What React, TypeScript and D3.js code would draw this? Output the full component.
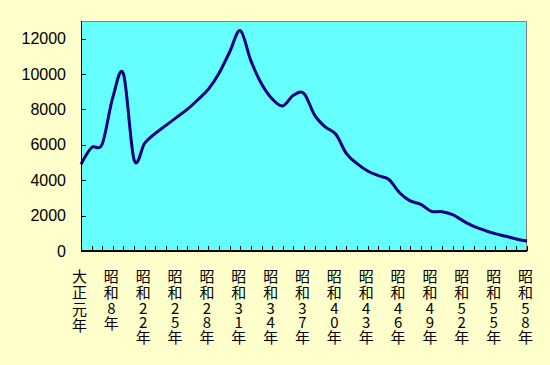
import React, { useEffect, useRef } from 'react';
import * as d3 from 'd3';

// one label per point; blanks are unlabeled categories
const CATEGORIES = [
  '大正元年', '', '', '昭和8年', '', '', '昭和22年', '昭和23年', '昭和24年',
  '昭和25年', '昭和26年', '昭和27年', '昭和28年', '昭和29年', '昭和30年',
  '昭和31年', '昭和32年', '昭和33年', '昭和34年', '昭和35年', '昭和36年',
  '昭和37年', '昭和38年', '昭和39年', '昭和40年', '昭和41年', '昭和42年',
  '昭和43年', '昭和44年', '昭和45年', '昭和46年', '昭和47年', '昭和48年',
  '昭和49年', '昭和50年', '昭和51年', '昭和52年', '昭和53年', '昭和54年',
  '昭和55年', '昭和56年', '昭和57年', '昭和58年'
];

const VALUES = [
  4900, 5850, 6050, 8700, 10000, 5150, 6100, 6650, 7100, 7550, 8000,
  8550, 9150, 10050, 11250, 12450, 10750, 9450, 8600, 8200, 8800, 8900,
  7680, 7010, 6600, 5500, 4940, 4520, 4260, 4040, 3290, 2830, 2640,
  2240, 2220, 2050, 1700, 1390, 1170, 980, 830, 680, 560
];

const Y_TICKS = [0, 2000, 4000, 6000, 8000, 10000, 12000];
const LABEL_EVERY = 3;

export default function App() {
  const svgRef = useRef<SVGSVGElement>(null);

  useEffect(() => {
    if (!svgRef.current) return;
    const width = 550;
    const height = 365;
    const m = { left: 81, top: 21, right: 23, bottom: 114 };
    const svg = d3.select(svgRef.current);
    svg.selectAll('*').remove();

    svg.append('rect').attr('width', width).attr('height', height).attr('fill', '#ffffcc');

    const x = d3.scalePoint<number>()
      .domain(d3.range(VALUES.length))
      .range([m.left, width - m.right]);
    const y = d3.scaleLinear().domain([0, 13000]).range([height - m.bottom, m.top]);

    const x0 = m.left, x1 = width - m.right, y0 = height - m.bottom, y1 = m.top;

    // plot area
    svg.append('rect')
      .attr('x', x0).attr('y', y1)
      .attr('width', x1 - x0).attr('height', y0 - y1)
      .attr('fill', '#66ffff');
    svg.append('path')
      .attr('d', `M${x0},${y1 + 0.5}H${x1 - 0.5}V${y0}`)
      .attr('fill', 'none')
      .attr('stroke', '#808080');

    // line
    const line = d3.line<number>()
      .x((_, i) => x(i)!)
      .y(d => y(d))
      .curve(d3.curveCardinal.tension(0));
    svg.append('path')
      .datum(VALUES)
      .attr('d', line)
      .attr('fill', 'none')
      .attr('stroke', '#000080')
      .attr('stroke-width', 3)
      .attr('stroke-linejoin', 'round');

    // y axis
    const yAxis = svg.append('g');
    yAxis.append('line')
      .attr('x1', x0 + 0.5).attr('x2', x0 + 0.5)
      .attr('y1', y1).attr('y2', y0)
      .attr('stroke', '#000');
    Y_TICKS.forEach(t => {
      yAxis.append('line')
        .attr('x1', x0).attr('x2', x0 + 5)
        .attr('y1', Math.round(y(t)) + 0.5).attr('y2', Math.round(y(t)) + 0.5)
        .attr('stroke', '#000');
      yAxis.append('text')
        .attr('x', 66).attr('y', y(t))
        .attr('text-anchor', 'end')
        .attr('dominant-baseline', 'central')
        .attr('font-family', '"Liberation Sans", Arial, sans-serif')
        .attr('font-size', 16)
        .attr('fill', '#000')
        .text(d3.format('d')(t));
    });

    // x axis
    const xAxis = svg.append('g');
    xAxis.append('line')
      .attr('x1', x0).attr('x2', x1)
      .attr('y1', y0).attr('y2', y0)
      .attr('stroke', '#000')
      .attr('stroke-width', 2);
    x.domain().forEach(i => {
      const xi = Math.round(x(i)!) + 0.5;
      xAxis.append('line')
        .attr('x1', xi).attr('x2', xi)
        .attr('y1', y0).attr('y2', y0 - 5)
        .attr('stroke', '#000');
    });

    // vertical category labels, one glyph per text element
    x.domain().filter(i => i % LABEL_EVERY === 0).forEach(i => {
      let top = 267;
      const g = xAxis.append('g');
      Array.from(CATEGORIES[i]).forEach(ch => {
        const h = /[0-9]/.test(ch) ? 14 : 16.5;
        g.append('text')
          .attr('x', x(i)! - 1.5)
          .attr('y', top + h / 2)
          .attr('text-anchor', 'middle')
          .attr('dominant-baseline', 'central')
          .attr('font-family', '"Noto Sans CJK JP", sans-serif')
          .attr('font-size', 15)
          .attr('fill', '#000')
          .text(ch);
        top += h;
      });
    });
  }, []);

  return (
    <svg
      ref={svgRef}
      width={550}
      height={365}
      style={{ position: 'fixed', left: 0, top: 0, display: 'block' }}
    />
  );
}
